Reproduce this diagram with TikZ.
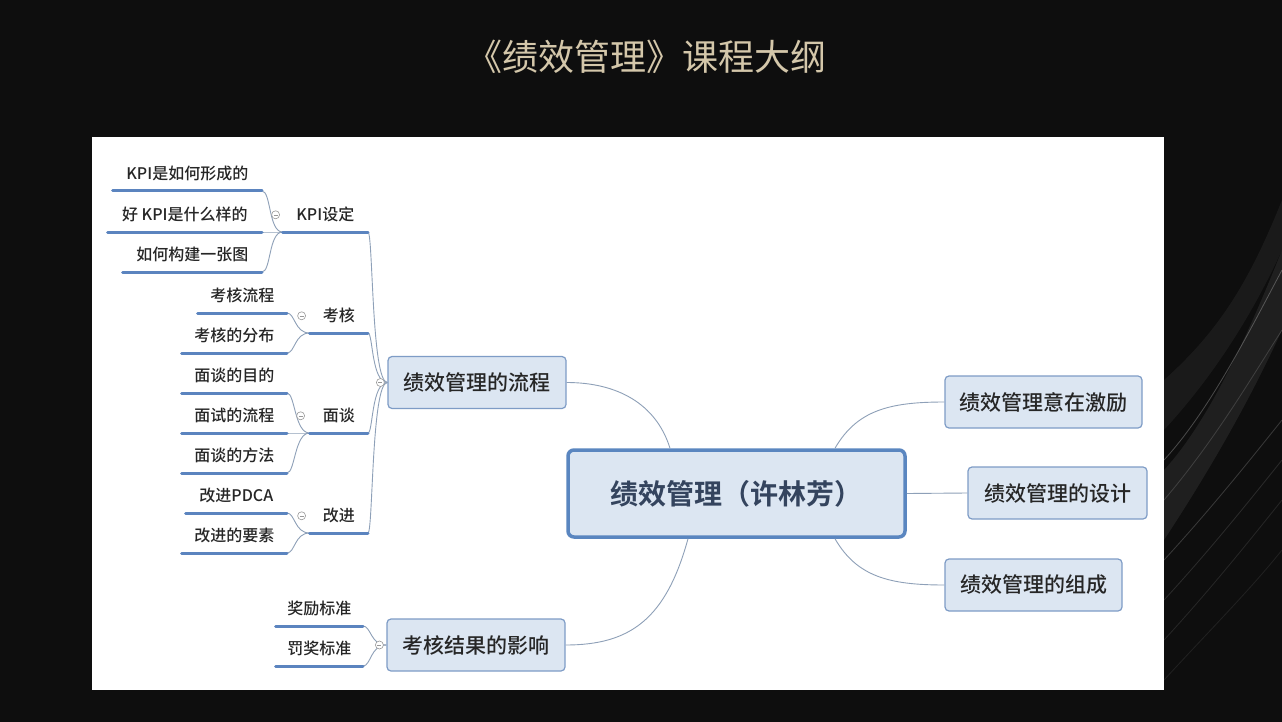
\documentclass[tikz,border=0pt]{standalone}
\usepackage{fontspec}
\newfontfamily\cjk{Noto Sans CJK SC Medium}
\newfontfamily\cjkb{Noto Sans CJK SC Bold}
\newfontfamily\cjkt{Noto Sans CJK SC}
\usetikzlibrary{calc}
\definecolor{bgc}{HTML}{0E0E0E}
\definecolor{titlec}{HTML}{D4C7AA}
\definecolor{txt}{HTML}{262626}
\definecolor{ctxt}{HTML}{34445E}
\definecolor{ulblue}{HTML}{5B84BF}
\definecolor{connc}{HTML}{8EA0B8}
\definecolor{boxf}{HTML}{DCE6F2}
\definecolor{boxb}{HTML}{7E9CC6}
\definecolor{cboxb}{HTML}{5A86C0}
\tikzset{
  leaf/.style={font=\cjk\fontsize{16}{18}\selectfont, text=txt, inner sep=0pt, minimum height=34pt, anchor=south east},
  uline/.style={draw=ulblue, line width=3pt, line cap=round},
  conn/.style={draw=connc, line width=0.9pt},
  topic/.style={draw=boxb, fill=boxf, rounded corners=4pt, line width=1.2pt, font=\cjk\fontsize{21}{24}\selectfont, text=txt, inner sep=0pt, minimum height=52pt},
  marker/.style={circle, draw=gray!80, fill=white, inner sep=0pt, minimum size=8pt, line width=0.6pt},
  streak/.style={white, line width=0.8pt}
}
\newcommand{\mymark}[1]{\node[marker] at (#1) {}; \draw[gray!80, line width=0.5pt] ($(#1)+(-2,0)$) -- ($(#1)+(2,0)$);}
\begin{document}
\begin{tikzpicture}[x=1pt,y=-1pt]
\useasboundingbox (0,0) rectangle (1282,722);
\fill[bgc] (0,0) rectangle (1282,722);
% right background silk streaks
\fill[white, opacity=0.07] (1164,470) .. controls (1210,420) and (1250,330) .. (1282,250) -- (1282,330) .. controls (1250,400) and (1210,470) .. (1164,540) -- cycle;
\fill[white, opacity=0.05] (1164,380) .. controls (1220,330) and (1250,280) .. (1282,200) -- (1282,250) .. controls (1250,320) and (1210,380) .. (1164,430) -- cycle;
\draw[streak, opacity=0.25] (1164,460) .. controls (1210,410) and (1250,330) .. (1282,270);
\draw[streak, opacity=0.15] (1164,500) .. controls (1215,440) and (1250,380) .. (1282,330);
\draw[streak, opacity=0.18] (1164,560) .. controls (1210,510) and (1250,460) .. (1282,420);
\draw[streak, opacity=0.12] (1164,600) .. controls (1210,550) and (1250,500) .. (1282,460);
\draw[streak, opacity=0.10] (1164,640) .. controls (1210,590) and (1250,540) .. (1282,500);
\draw[streak, opacity=0.08] (1164,680) .. controls (1210,630) and (1250,590) .. (1282,550);
% white panel
\fill[white] (92,137) rectangle (1164,690);
% title
\node[font=\cjkt\fontsize{36}{42}\selectfont, text=titlec] (title) at (646,57) {《绩效管理》课程大纲};

% central
\node[draw=cboxb, fill=boxf, line width=3.5pt, rounded corners=6pt, minimum width=337pt, minimum height=87pt, inner sep=0pt, font=\cjkb\fontsize{28}{32}\selectfont, text=ctxt] (ctr) at (736.5,493.5) {绩效管理（许林芳）};

% main topics
\node[topic, minimum width=178pt] (flow) at (477,382.5) {绩效管理的流程};
\node[topic, minimum width=178pt] (res) at (476,645) {考核结果的影响};
\node[topic, minimum width=197pt] (r1) at (1043.5,402) {绩效管理意在激励};
\node[topic, minimum width=179pt] (r2) at (1057.5,493) {绩效管理的设计};
\node[topic, minimum width=177pt] (r3) at (1033.5,585) {绩效管理的组成};

% subtopics
\node[leaf, minimum width=85pt] (kpi) at (368,232) {KPI设定};
\node[leaf, minimum width=58pt] (kh) at (368,333) {考核};
\node[leaf, minimum width=58pt] (mt) at (368,433) {面谈};
\node[leaf, minimum width=58pt] (gj) at (368,533) {改进};

% leaves
\node[leaf, minimum width=149pt] (k1) at (262,191) {KPI是如何形成的};
\node[leaf, minimum width=154pt] (k2) at (262,232) {好 KPI是什么样的};
\node[leaf, minimum width=139pt] (k3) at (262,272) {如何构建一张图};
\node[leaf, minimum width=89pt] (h1) at (287,313) {考核流程};
\node[leaf, minimum width=105pt] (h2) at (287,353) {考核的分布};
\node[leaf, minimum width=105pt] (m1) at (287,393) {面谈的目的};
\node[leaf, minimum width=105pt] (m2) at (287,433) {面试的流程};
\node[leaf, minimum width=105pt] (m3) at (287,473) {面谈的方法};
\node[leaf, minimum width=101pt] (g1) at (287,513) {改进PDCA};
\node[leaf, minimum width=105pt] (g2) at (287,553) {改进的要素};
\node[leaf, minimum width=87pt] (s1) at (363,626) {奖励标准};
\node[leaf, minimum width=87pt] (s2) at (363,666) {罚奖标准};

% central connectors
\draw[conn] ([xshift=-66.5pt]ctr.north) .. controls +(-14,-45) and +(50,0) .. (flow.east);
\draw[conn] ([xshift=-48.5pt]ctr.south) .. controls +(-22,80) and +(65,0) .. (res.east);
\draw[conn] ([xshift=98.5pt]ctr.north) .. controls +(22,-38) and +(-55,0) .. (r1.west);
\draw[conn] (ctr.east) -- (r2.west);
\draw[conn] ([xshift=98.5pt]ctr.south) .. controls +(22,38) and +(-55,0) .. (r3.west);

% flow to subtopics
\foreach \c in {kpi,kh,mt,gj}{
  \draw[conn] (flow.west) .. controls +(-16,0) and +(5,0) .. (\c.south east);
}
% subtopic to leaves
\foreach \c in {k1,k2,k3}{
  \draw[conn] (kpi.south west) .. controls +(-14,0) and +(9,0) .. (\c.south east);
}
\foreach \c in {h1,h2}{
  \draw[conn] (kh.south west) .. controls +(-15,0) and +(8,0) .. (\c.south east);
}
\foreach \c in {m1,m2,m3}{
  \draw[conn] (mt.south west) .. controls +(-15,0) and +(8,0) .. (\c.south east);
}
\foreach \c in {g1,g2}{
  \draw[conn] (gj.south west) .. controls +(-15,0) and +(8,0) .. (\c.south east);
}
\foreach \c in {s1,s2}{
  \draw[conn] (res.west) .. controls +(-16,0) and +(8,0) .. (\c.south east);
}

% underlines
\foreach \c in {kpi,kh,mt,gj,k1,k2,k3,h1,h2,m1,m2,m3,g1,g2,s1,s2}{
  \draw[uline] (\c.south west) -- (\c.south east);
}

% collapse markers
\coordinate (mk1) at ([xshift=-7pt]flow.west);
\coordinate (mk2) at ([xshift=-7pt]res.west);
\coordinate (mk3) at ([xshift=-7pt]kpi.west);
\coordinate (mk4) at ([xshift=-8pt]kh.west);
\coordinate (mk5) at ([xshift=-9pt]mt.west);
\coordinate (mk6) at ([xshift=-8pt]gj.west);
\mymark{mk1}\mymark{mk2}\mymark{mk3}\mymark{mk4}\mymark{mk5}\mymark{mk6}
\end{tikzpicture}
\end{document}
